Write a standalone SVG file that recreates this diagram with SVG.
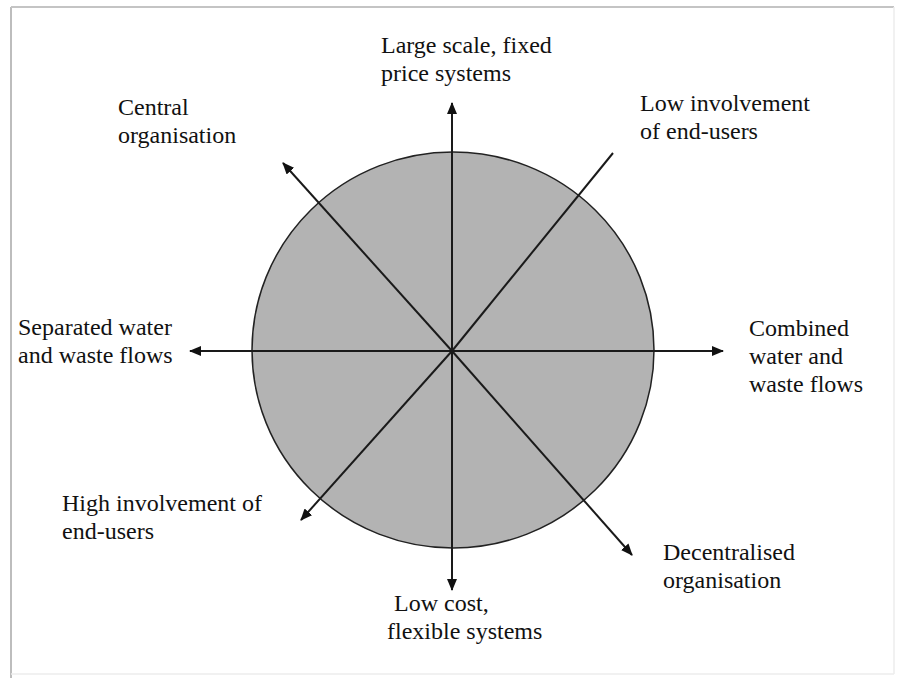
<svg xmlns="http://www.w3.org/2000/svg" width="899" height="678" viewBox="0 0 899 678">
<defs>
<style>
text{font-family:"Liberation Serif","Times New Roman",serif;font-size:24px;fill:#111}
.ax{stroke:#1a1a1a;stroke-width:2;fill:none}
</style>
<marker id="ah" viewBox="0 0 12 10" refX="11" refY="5" markerWidth="12" markerHeight="10" markerUnits="userSpaceOnUse" orient="auto">
<path d="M0,0 L12,5 L0,10 Z" fill="#111"/>
</marker>
</defs>
<rect width="899" height="678" fill="#fff"/>
<g id="frame">
<line x1="11" y1="7" x2="11" y2="678" stroke="#bdbdbd" stroke-width="2"/>
<line x1="11" y1="7" x2="894" y2="7" stroke="#c4c4c4" stroke-width="2"/>
<line x1="894" y1="7" x2="894" y2="674" stroke="#ececec" stroke-width="1.5"/>
<line x1="11" y1="674" x2="894" y2="674" stroke="#ececec" stroke-width="1.5"/>
</g>
<g id="circle">
<ellipse cx="453" cy="350" rx="201" ry="198" fill="#b3b3b3" stroke="#222" stroke-width="1.5"/>
</g>
<g id="connectors">
<line class="ax" x1="452" y1="351" x2="452" y2="103" marker-end="url(#ah)"/>
<line class="ax" x1="452" y1="351" x2="452" y2="590" marker-end="url(#ah)"/>
<line class="ax" x1="452" y1="351" x2="190" y2="351" marker-end="url(#ah)"/>
<line class="ax" x1="452" y1="351" x2="723" y2="351" marker-end="url(#ah)"/>
<line class="ax" x1="452" y1="351" x2="283" y2="163" marker-end="url(#ah)"/>
<line class="ax" x1="452" y1="351" x2="632" y2="555" marker-end="url(#ah)"/>
<line class="ax" x1="452" y1="351" x2="613" y2="153"/>
<line class="ax" x1="452" y1="351" x2="301" y2="520" marker-end="url(#ah)"/>
</g>
<g id="top"><text x="381" y="53">Large scale, fixed</text><text x="381" y="81">price systems</text></g>
<g id="central"><text x="118" y="115">Central</text><text x="118" y="143">organisation</text></g>
<g id="lowinv"><text x="640" y="111">Low involvement</text><text x="640" y="139">of end-users</text></g>
<g id="separated"><text x="18" y="335">Separated water</text><text x="18" y="363">and waste flows</text></g>
<g id="combined"><text x="749" y="336">Combined</text><text x="749" y="364">water and</text><text x="749" y="392">waste flows</text></g>
<g id="highinv"><text x="62" y="511">High involvement of</text><text x="62" y="539">end-users</text></g>
<g id="decentral"><text x="663" y="560">Decentralised</text><text x="663" y="588">organisation</text></g>
<g id="bottom"><text x="394" y="611">Low cost,</text><text x="387" y="639">flexible systems</text></g>
</svg>
